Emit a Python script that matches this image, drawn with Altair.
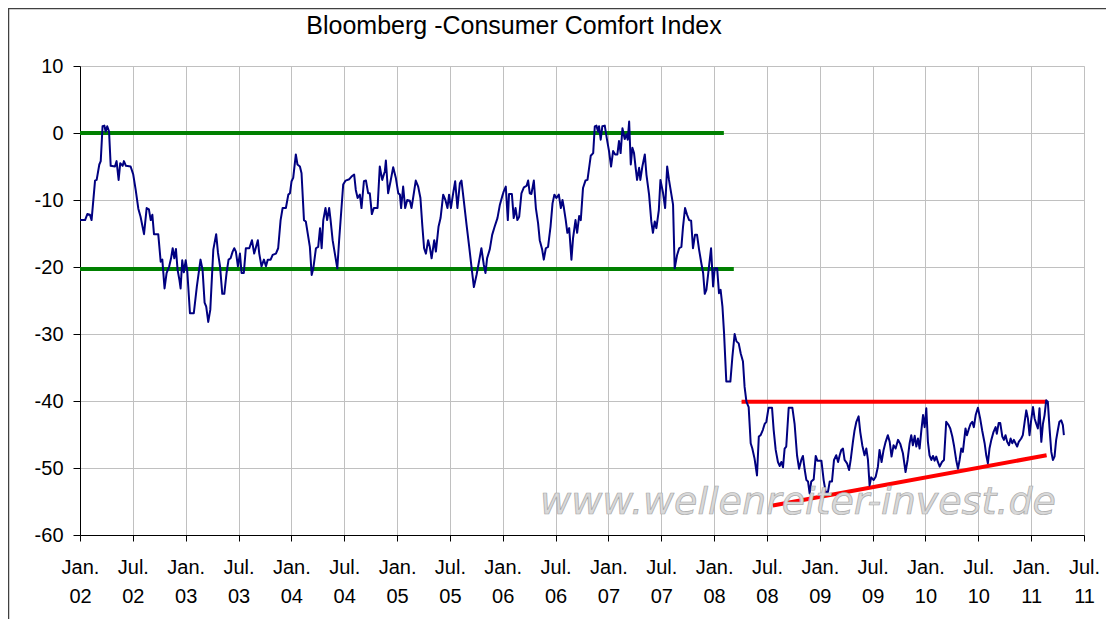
import altair as alt
import pandas as pd

# weeks since the first week of January 2002 (52 weeks per axis year)
weeks = [
    0, 2.5, 3.6, 4.9, 5.7, 7.4, 8.2, 9.5, 10.2, 11.1, 12.0, 12.6, 13.4, 14.3, 15.1, 17.2, 18.0, 19.0, 19.8, 21.0,
    21.6, 22.6, 24.9, 26.2, 27.4, 28.7, 29.8, 31.5, 32.8, 33.9, 34.8, 35.6, 36.4, 38.5, 39.7, 40.5, 41.6, 42.6, 43.9, 44.8,
    45.6, 46.4, 47.2, 48.0, 48.9, 49.5, 50.3, 51.1, 52.0, 52.8,
    54.1, 56.0, 57.5, 59.3, 60.3, 61.3, 62.1, 63.1, 64.1, 65.6, 67.0, 67.9, 68.9, 70.0, 71.0, 72.1, 73.1, 74.1, 75.1, 75.9,
    76.7, 77.7, 78.7, 79.5, 80.6, 81.6, 83.3, 84.6, 85.7, 86.6, 87.5, 88.2, 89.3, 90.5, 91.5, 92.4, 93.8, 94.8, 96.4, 97.5,
    98.7, 99.7, 101.3, 102.5, 103.3, 104.1, 104.9, 106.2, 107.0, 108.2, 109.0, 110.2, 111.1,
    113.1, 114.0, 114.8, 116.1, 117.2, 118.1, 118.9, 119.7, 120.8, 121.6, 122.6, 123.3, 124.3, 125.4, 126.6, 127.5, 128.7,
    129.5, 130.7, 132.5, 133.6, 134.9, 135.7, 136.6, 137.7, 138.5, 139.7, 140.7, 141.8, 142.6, 143.6, 144.6, 146.4, 147.5,
    148.7, 150.0, 150.5, 151.6, 152.8, 154.1, 155.4, 156.6, 157.4, 158.0, 159.0, 160.0, 161.0, 162.3, 163.1, 163.9, 165.2,
    166.4, 167.5, 168.4, 169.3, 170.2, 171.3,
    172.1, 173.0, 174.3, 175.1, 176.4, 177.4, 178.7, 179.8, 180.8, 181.6, 182.5, 183.6, 184.6, 185.7, 186.9, 187.7, 188.5,
    190.2, 191.5, 192.6, 193.8, 195.1, 196.2, 197.5, 198.7, 199.5, 200.3, 201.6, 202.8, 204.0, 205.4, 206.6, 207.7, 208.5,
    209.5, 210.5, 211.1, 212.5, 213.4, 214.3, 215.2, 216.1, 217.2, 218.4, 219.7, 220.5, 221.3, 222.1, 223.3, 224.3, 225.4,
    226.2, 227.4, 228.2, 229.2, 230.3,
    231.5, 232.5, 233.4, 234.4, 235.6, 236.6, 237.4, 238.1, 239.0, 239.8, 240.7, 241.8, 242.6, 243.8, 244.6, 245.6, 246.4,
    247.5, 248.7, 249.7, 250.5, 251.3, 252.5, 253.3, 254.1, 254.9, 255.4, 256.2, 257.0, 258.2, 259.3, 260.3, 261.3, 262.3,
    263.3, 264.4, 265.2, 266.0, 266.9, 268.0, 268.9, 269.5, 270.2, 271.0, 271.8, 272.6, 273.4, 274.1, 275.1, 275.7, 276.7,
    277.9, 278.7, 280.0, 281.1, 281.9, 282.8, 283.6, 284.8, 285.6, 286.9, 287.9, 288.9, 289.8,
    291.8, 292.6, 293.8, 294.8, 295.9, 296.7, 297.7, 298.7, 299.7, 300.7, 301.6, 302.6, 303.6, 304.6, 305.7, 306.6, 307.4,
    308.2, 309.5, 310.5, 311.5, 312.3, 313.5, 314.4, 315.2, 316.1, 316.9, 318.0, 320.0, 321.0, 322.1, 323.0, 324.1, 325.1,
    326.2, 327.0, 327.9, 329.0, 330.0, 330.8, 331.9, 333.1, 334.0, 334.9, 336.0, 336.9, 337.7, 338.8, 340.5, 341.3, 342.3,
    343.4, 344.3, 345.1, 345.9, 346.7, 347.5, 348.7, 350.5,
    351.6, 352.8, 353.8, 354.9, 355.7, 356.6, 357.4, 358.2, 359.0, 359.8, 361.0, 362.0, 362.8, 364.8, 365.9, 366.9, 368.0,
    368.9, 370.0, 371.0, 372.1, 373.0, 373.8, 374.6, 375.4, 376.2, 377.4, 378.4, 379.2, 380.3, 381.1, 382.0, 383.1, 383.9,
    384.9, 386.0, 386.9, 387.7, 388.5, 389.3, 390.5, 391.5, 392.6, 393.4, 394.4, 395.4, 396.4, 397.5, 398.4, 399.3, 400.3,
    401.3, 402.5, 403.6, 404.9, 406.2, 407.2,
    408.2, 409.0, 409.8, 410.7, 411.5, 412.3, 413.1, 413.9, 414.8, 415.6, 416.4, 417.2, 418.0, 418.9, 419.7, 420.5, 421.3,
    422.1, 423.0, 424.1, 425.1, 426.2, 427.4, 428.2, 429.2, 430.0, 431.1, 432.0, 432.8, 433.6, 434.4, 435.7, 436.4, 437.4,
    438.2, 439.0, 439.8, 440.7, 441.8, 442.9, 443.9, 445.1, 445.9, 446.7, 447.5, 448.4, 449.5, 450.5, 451.1, 452.0, 452.8,
    453.8, 454.6, 455.4, 456.2, 457.1, 457.9, 458.7, 459.5, 460.3, 461.1, 461.9,
    463.1, 463.9, 464.8, 465.6, 466.4, 467.2, 468.0, 468.9, 469.7, 470.5, 471.3, 472.1, 473.0, 473.8, 474.6, 475.4, 476.2,
    477.0, 477.9, 478.7, 479.5, 480.3, 481.1, 481.9, 482.8, 483.6, 484.1,
]

index_values = [
    -13.0, -13.0, -12.1, -12.2, -13.0, -7.1, -7.0, -4.7, -4.2, 1.0, 1.1, 0.2, 1.0, 0.2, -4.9, -5.0, -4.2, -7.0, -4.5, -4.9,
    -4.2, -4.9, -5.0, -6.2, -8.5, -11.3, -12.5, -15.1, -11.2, -11.4, -13.0, -12.2, -15.1, -15.1, -19.2, -18.9, -23.2, -20.9, -19.9, -18.7,
    -17.2, -18.7, -17.3, -20.4, -21.9, -23.2, -19.0, -20.8, -19.0, -20.7,
    -26.9, -26.9, -22.9, -18.9, -20.4, -25.3, -25.9, -28.2, -26.4, -17.4, -15.1, -17.9, -19.9, -24.0, -24.0, -20.9, -18.9, -18.7, -17.7, -17.2,
    -17.7, -19.9, -18.0, -20.9, -20.9, -17.2, -17.2, -16.0, -18.0, -17.0, -16.0, -18.0, -19.9, -18.9, -19.9, -18.9, -18.9, -18.2, -18.0, -17.2,
    -13.0, -11.2, -11.2, -9.2, -9.0, -7.2, -6.7, -3.2, -4.7, -5.0, -6.0, -13.0, -13.2,
    -17.0, -21.2, -20.2, -17.2, -17.0, -14.2, -17.2, -13.0, -11.2, -13.0, -11.2, -13.0, -16.0, -18.0, -20.2, -16.0, -11.0,
    -7.7, -7.1, -6.9, -6.5, -6.2, -8.5, -9.7, -9.2, -11.2, -7.2, -7.1, -9.0, -9.0, -12.1, -11.2, -11.2, -5.0,
    -7.0, -5.7, -4.1, -9.0, -7.2, -5.1, -6.7, -9.0, -9.2, -11.2, -8.0, -11.2, -10.0, -10.1, -11.2, -9.7, -7.1,
    -8.0, -9.7, -13.7, -17.2, -18.0, -16.0,
    -17.0, -18.7, -16.0, -17.7, -14.0, -12.7, -9.2, -10.0, -11.2, -9.2, -11.2, -9.0, -7.2, -11.2, -7.5, -7.1, -9.2,
    -13.7, -17.0, -19.9, -23.0, -21.2, -19.4, -17.2, -19.7, -20.9, -18.7, -17.4, -15.2, -14.0, -12.7, -10.7, -9.5, -8.7,
    -8.0, -13.0, -9.1, -9.1, -12.7, -11.2, -13.0, -12.5, -9.0, -8.1, -7.9, -7.1, -9.0, -9.1, -7.1, -11.2, -13.5,
    -16.0, -17.4, -18.9, -17.2, -17.0,
    -14.0, -10.5, -9.2, -9.7, -9.2, -11.2, -10.0, -11.2, -13.0, -14.9, -14.2, -18.9, -15.7, -13.0, -14.9, -12.4, -13.0,
    -8.2, -7.1, -7.0, -5.2, -3.4, -3.0, 1.0, 1.1, 0.2, 1.0, -1.0, 1.0, 1.1, -1.0, -2.7, -5.0, -2.7,
    -3.2, -3.2, -1.2, -3.0, 0.7, -0.9, -0.2, -1.0, 1.7, -4.7, -2.2, -3.0, -5.2, -7.0, -5.2, -7.0, -5.0,
    -3.2, -6.2, -9.2, -13.2, -14.9, -13.2, -14.2, -11.5, -7.0, -9.0, -11.2, -5.0, -7.0,
    -10.7, -20.2, -18.2, -17.2, -17.0, -14.0, -11.2, -12.2, -13.0, -13.1, -17.2, -15.2, -15.2, -17.4, -19.4, -20.9, -24.0,
    -23.4, -19.9, -17.2, -22.9, -20.2, -20.2, -23.9, -23.4, -25.9, -29.9, -37.1, -37.1, -33.4, -30.0, -31.1, -31.4, -32.9,
    -34.1, -37.9, -40.1, -40.9, -46.3, -47.1, -48.6, -51.1, -45.3, -45.1, -44.3, -43.4, -43.1, -41.0, -41.0, -44.3, -47.3,
    -49.1, -49.7, -49.1, -49.9, -47.1, -46.8, -41.0, -41.0,
    -43.4, -48.1, -50.1, -48.8, -48.2, -50.3, -51.8, -52.0, -53.8, -52.0, -51.7, -48.2, -48.9, -48.9, -51.8, -53.6, -53.6,
    -52.0, -52.0, -48.8, -48.1, -49.1, -48.1, -47.3, -47.1, -48.8, -49.3, -50.3, -48.8, -46.1, -44.4, -43.1, -42.3, -44.6,
    -46.6, -48.1, -47.1, -48.8, -52.6, -51.4, -51.8, -51.3, -49.8, -47.3, -49.1, -47.3, -46.1, -45.1, -46.1, -48.3, -46.6,
    -47.1, -45.8, -46.4, -47.8, -50.6, -48.8,
    -46.3, -45.1, -46.6, -45.2, -46.8, -45.6, -47.1, -44.6, -42.1, -43.9, -41.1, -46.1, -48.1, -48.8, -48.2, -48.9, -48.3,
    -49.1, -49.8, -49.1, -48.8, -43.1, -43.6, -44.1, -45.3, -46.6, -48.8, -50.1, -48.8, -47.1, -47.6, -44.1, -45.1, -44.1,
    -43.4, -43.1, -43.9, -42.1, -41.0, -42.6, -44.4, -46.3, -48.1, -49.3, -47.1, -45.8, -44.6, -43.9, -44.9, -43.3, -43.3,
    -45.3, -45.8, -45.1, -46.1, -46.6, -45.6, -46.3, -45.8, -46.3, -46.8, -46.1,
    -45.6, -45.1, -43.1, -41.4, -42.6, -45.1, -42.9, -40.9, -42.6, -43.4, -44.1, -41.1, -46.1, -43.4, -42.1, -39.9, -40.1,
    -43.9, -47.6, -48.8, -48.3, -45.8, -44.4, -43.1, -42.9, -43.6, -45.1,
]

# support / resistance lines drawn on the chart
level_start_weeks = [0.0, 0.0, 325.5, 340.9]
level_end_weeks = [316.8, 321.7, 475.5, 475.6]
level_start_values = [0.0, -20.3, -40.1, -55.6]
level_end_values = [0.0, -20.3, -40.1, -48.1]
level_colors = ["#008000", "#008000", "#ff0000", "#ff0000"]

x_ticks = [2002.0, 2002.5, 2003.0, 2003.5, 2004.0, 2004.5, 2005.0, 2005.5, 2006.0, 2006.5,
           2007.0, 2007.5, 2008.0, 2008.5, 2009.0, 2009.5, 2010.0, 2010.5, 2011.0, 2011.5]
y_ticks = [-60, -50, -40, -30, -20, -10, 0, 10]

title_text = "Bloomberg -Consumer Comfort Index"
watermark_text = "www.wellenreiter-invest.de"

series = pd.DataFrame({"year": [2002 + w / 52.0 for w in weeks], "value": index_values})
levels = pd.DataFrame({
    "x1": [2002 + w / 52.0 for w in level_start_weeks],
    "x2": [2002 + w / 52.0 for w in level_end_weeks],
    "y1": level_start_values,
    "y2": level_end_values,
    "color": level_colors,
})
single = pd.DataFrame({"k": [0]})

FONT = "Liberation Sans"
x_scale = alt.Scale(domain=[2002, 2011.5], nice=False, zero=False)
y_scale = alt.Scale(domain=[-60, 10], nice=False, zero=False)

x_axis = alt.Axis(
    values=x_ticks,
    labelExpr="[datum.value % 1 == 0 ? 'Jan.' : 'Jul.', slice('0' + (floor(datum.value) % 100), -2)]",
    title=None, grid=True, gridColor="#c0c0c0", gridWidth=1,
    domainColor="#000000", domainWidth=1, tickColor="#000000", tickSize=6,
    labelFont=FONT, labelFontSize=20, labelColor="#000000", labelPadding=16,
    labelLineHeight=29, labelFlush=False, labelOverlap=False, labelBound=False,
)
y_axis = alt.Axis(
    values=y_ticks, labelExpr="'' + datum.value", title=None, grid=True, gridColor="#c0c0c0", gridWidth=1,
    domainColor="#000000", domainWidth=1, tickColor="#000000", tickSize=7,
    labelFont=FONT, labelFontSize=20, labelColor="#000000", labelPadding=10,
    labelFlush=False, labelOverlap=False,
)

level_lines = alt.Chart(levels).mark_rule(strokeWidth=4).encode(
    x=alt.X("x1:Q", scale=x_scale, axis=x_axis),
    x2="x2:Q",
    y=alt.Y("y1:Q", scale=y_scale, axis=y_axis),
    y2="y2:Q",
    color=alt.Color("color:N", scale=None),
)

index_line = alt.Chart(series).mark_line(color="#000080", strokeWidth=2, strokeJoin="round").encode(
    x=alt.X("year:Q", scale=x_scale, axis=x_axis),
    y=alt.Y("value:Q", scale=y_scale, axis=y_axis),
)

watermark = alt.Chart(single).mark_text(
    font="DejaVu Sans", fontSize=38, fontStyle="italic", color="#d9d9d9",
    stroke="#a8a8a8", strokeWidth=0.7, align="center", baseline="middle",
).encode(x=alt.value(718), y=alt.value(437), text=alt.value(watermark_text))

title = alt.Chart(single).mark_text(
    font=FONT, fontSize=25, color="#000000", align="center", baseline="middle",
).encode(x=alt.value(434), y=alt.value(-40), text=alt.value(title_text))

frame = alt.Chart(single).mark_rect(filled=False, stroke="#404040", strokeWidth=1.5).encode(
    x=alt.value(-71.5), x2=alt.value(1027), y=alt.value(-57.5), y2=alt.value(600)
)

chart = alt.layer(level_lines, index_line, watermark, title, frame).properties(
    width=1004,
    height=469,
    autosize=alt.AutoSizeParams(type="none"),
    padding={"left": 72, "top": 58, "right": 22, "bottom": 84},
).configure_view(stroke="#808080", strokeWidth=1).configure(background="#ffffff")

chart.save("out.html", embed_options={"renderer": "svg", "actions": False})
